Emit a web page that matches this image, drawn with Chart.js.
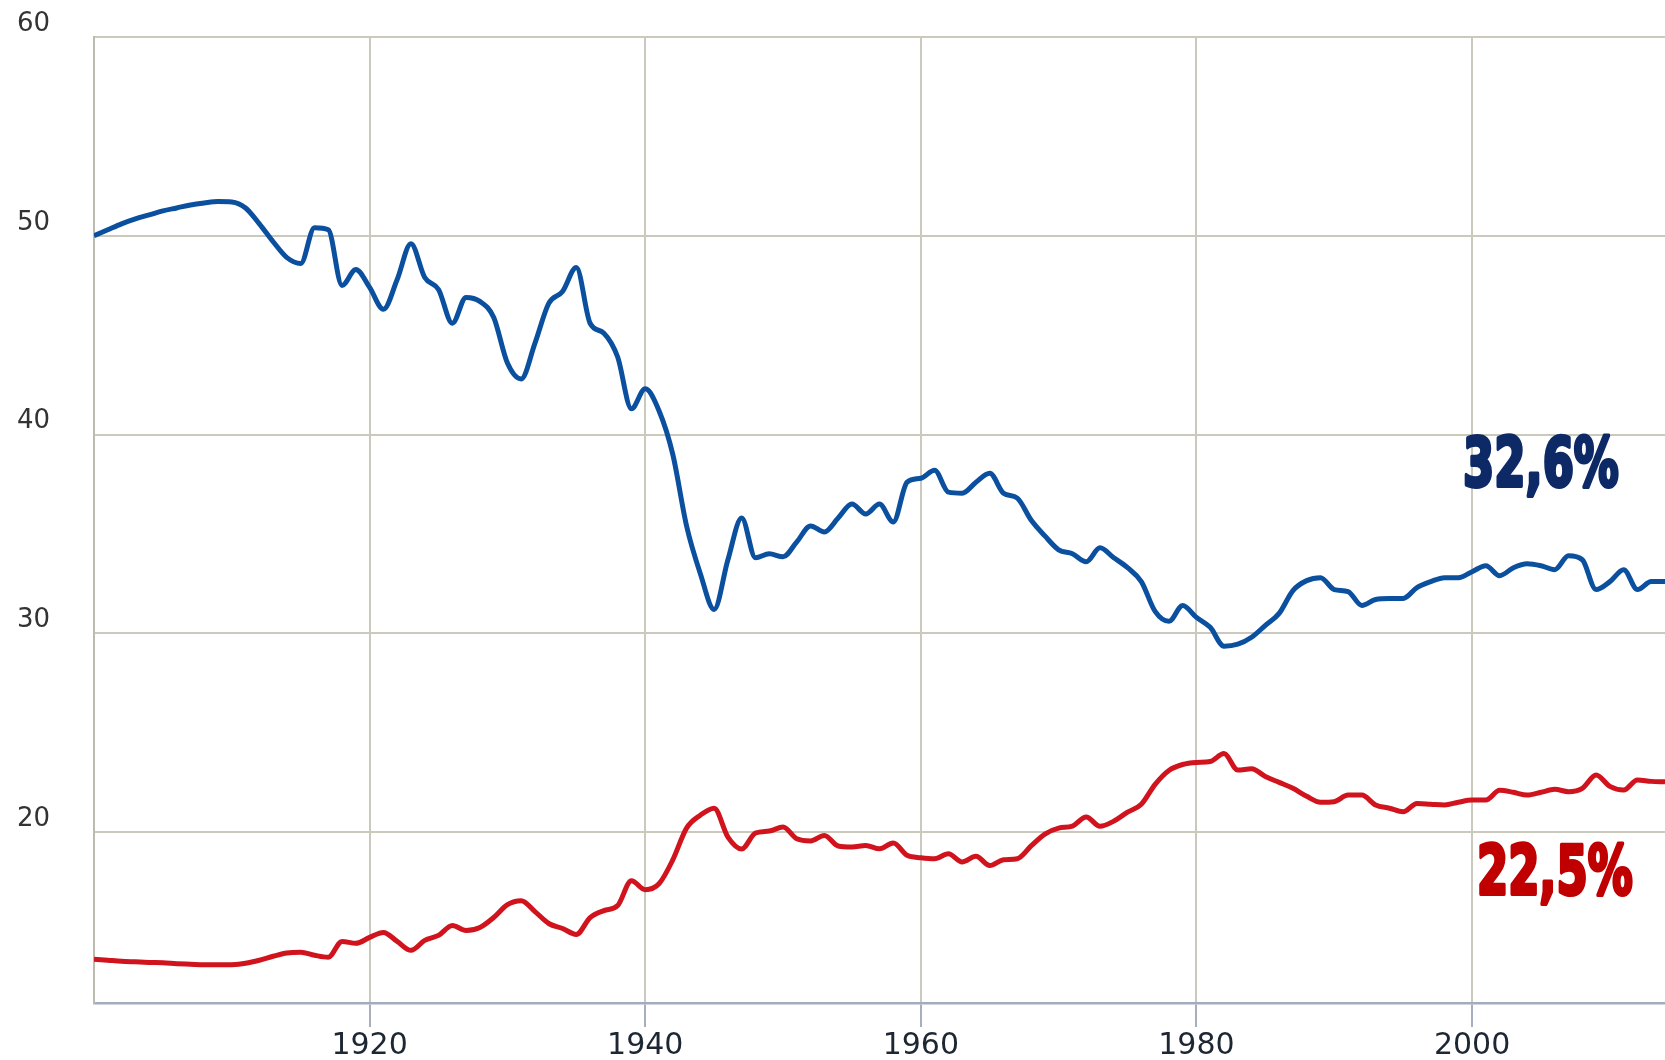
<!DOCTYPE html>
<html lang="en">
<head>
    <meta charset="UTF-8">
    <title>Share chart 1900-2014</title>
    <style>
        html, body { margin: 0; padding: 0; background: #fff; }
        .chart-container { width: 1665px; height: 1060px; position: relative; }
    </style>
</head>
<body>
    <div class="chart-container">
        <canvas id="myChart"></canvas>
    </div>

    <script src="https://cdn.jsdelivr.net/npm/chart.js"></script>
    <script>
    // years 1900..2014
    const years = [];
    for (let y = 1900; y <= 2014; y++) years.push(y);

    const blueValues = [
        50.0, 50.3, 50.6, 50.85, 51.05, 51.25, 51.4, 51.55, 51.65, 51.72,
        51.7, 51.4, 50.6, 49.7, 48.9, 48.6, 50.4, 50.3, 47.5, 48.3,
        47.4, 46.3, 47.8, 49.6, 47.9, 47.3, 45.6, 46.9, 46.7, 45.9,
        43.6, 42.8, 44.6, 46.6, 47.2, 48.4, 45.6, 45.1, 43.9, 41.3,
        42.3, 41.2, 39.0, 35.4, 33.0, 31.2, 33.7, 35.8, 33.8, 34.0,
        33.85, 34.6, 35.4, 35.1, 35.8, 36.5, 36.0, 36.5, 35.6, 37.6,
        37.8, 38.2, 37.1, 37.05, 37.6, 38.05, 37.05, 36.8, 35.7, 34.9,
        34.2, 34.0, 33.6, 34.3, 33.8, 33.3, 32.6, 31.1, 30.6, 31.4,
        30.8, 30.3, 29.35, 29.45, 29.8, 30.4, 31.0, 32.15, 32.65, 32.8,
        32.2, 32.1, 31.4, 31.7, 31.75, 31.75, 32.3, 32.6, 32.8, 32.8,
        33.1, 33.4, 32.9, 33.3, 33.5, 33.4, 33.2, 33.9, 33.7, 32.2,
        32.6, 33.2, 32.2, 32.6, 32.6
    ];

    const redValues = [
        13.6, 13.55, 13.5, 13.47, 13.44, 13.42, 13.38, 13.35, 13.32, 13.32,
        13.33, 13.4, 13.55, 13.75, 13.92, 13.95, 13.8, 13.7, 14.5, 14.4,
        14.7, 14.95, 14.5, 14.05, 14.55, 14.8, 15.3, 15.05, 15.2, 15.7,
        16.35, 16.55, 16.0, 15.4, 15.15, 14.85, 15.7, 16.05, 16.3, 17.55,
        17.1, 17.4, 18.6, 20.2, 20.85, 21.2, 19.75, 19.15, 19.95, 20.05,
        20.25, 19.66, 19.55, 19.83, 19.3, 19.25, 19.33, 19.16, 19.45, 18.83,
        18.71, 18.66, 18.91, 18.5, 18.78, 18.32, 18.61, 18.66, 19.3, 19.9,
        20.2, 20.3, 20.76, 20.29, 20.55, 21.0, 21.4, 22.4, 23.1, 23.4,
        23.5, 23.55, 23.95, 23.12, 23.18, 22.8, 22.5, 22.2, 21.8, 21.5,
        21.53, 21.86, 21.86, 21.36, 21.2, 21.02, 21.44, 21.4, 21.36, 21.5,
        21.61, 21.61, 22.1, 22.0, 21.86, 22.0, 22.15, 22.03, 22.2, 22.87,
        22.3, 22.11, 22.62, 22.55, 22.53
    ];

    const xTicks = [1920, 1940, 1960, 1980, 2000];
    const yTicks = [20, 30, 40, 50, 60];
    const endLabels = ['32,6%', '22,5%'];

    const toPoints = (vals) => vals.map((v, i) => ({ x: years[i], y: v }));

    // draws the two big end labels, anchored through the scales
    // (condensed heavy look: squeeze a bold face horizontally)
    const endLabelPlugin = {
        id: 'endLabels',
        afterDatasetsDraw(chart, args, opts) {
            const ctx = chart.ctx;
            const xs = chart.scales.x, ys = chart.scales.y;
            ctx.save();
            ctx.font = 'bold 68px "DejaVu Sans", sans-serif';
            ctx.textAlign = 'center';
            ctx.textBaseline = 'middle';
            opts.items.forEach(it => {
                const px = xs.getPixelForValue(it.x);
                const py = ys.getPixelForValue(it.y);
                ctx.save();
                ctx.translate(px, py);
                ctx.scale(0.66, 1);
                ctx.fillStyle = it.color;
                ctx.strokeStyle = it.color;
                ctx.lineWidth = 4;
                ctx.lineJoin = 'round';
                ctx.fillText(it.text, 0, 0);
                ctx.strokeText(it.text, 0, 0);
                ctx.restore();
            });
            ctx.restore();
        }
    };

    const ctx = document.getElementById('myChart').getContext('2d');
    new Chart(ctx, {
        type: 'line',
        data: {
            datasets: [{
                label: 'blue',
                data: toPoints(blueValues),
                borderColor: '#0b4f9f',
                borderWidth: 5,
                pointRadius: 0,
                cubicInterpolationMode: 'monotone'
            }, {
                label: 'red',
                data: toPoints(redValues),
                borderColor: '#d0131d',
                borderWidth: 5,
                pointRadius: 0,
                cubicInterpolationMode: 'monotone'
            }]
        },
        options: {
            responsive: true,
            maintainAspectRatio: false,
            animation: false,
            layout: { padding: { left: 17, top: 37, right: 0, bottom: 0 } },
            plugins: {
                legend: { display: false },
                tooltip: { enabled: false },
                endLabels: {
                    items: [
                        { text: endLabels[0], x: 2005.0, y: 38.3, color: '#0d2a66' },
                        { text: endLabels[1], x: 2006.0, y: 17.75, color: '#c00000' }
                    ]
                }
            },
            scales: {
                x: {
                    type: 'linear',
                    min: 1900,
                    max: 2014,
                    afterBuildTicks: (axis) => { axis.ticks = xTicks.map(v => ({ value: v })); },
                    afterFit: (axis) => { axis.height = 57; },
                    grid: {
                        color: '#cbc9bb',
                        lineWidth: 2,
                        tickColor: '#a7afbf',
                        tickLength: 24
                    },
                    border: { color: '#a3acbe', width: 2.5 },
                    ticks: {
                        color: '#1c2733',
                        font: { family: 'DejaVu Sans', size: 30 },
                        padding: 1,
                        maxRotation: 0,
                        callback: (v) => String(v)
                    }
                },
                y: {
                    min: 11.4,
                    max: 60,
                    afterBuildTicks: (axis) => { axis.ticks = yTicks.map(v => ({ value: v })); },
                    afterFit: (axis) => { axis.width = 77; },
                    grid: {
                        color: '#cbc9bb',
                        lineWidth: 2,
                        drawTicks: false
                    },
                    border: { color: '#bdbbb0', width: 2 },
                    ticks: {
                        color: '#333333',
                        font: { family: 'DejaVu Sans', size: 26 },
                        crossAlign: 'far',
                        labelOffset: -13
                    }
                }
            }
        },
        plugins: [endLabelPlugin]
    });
    </script>
</body>
</html>
